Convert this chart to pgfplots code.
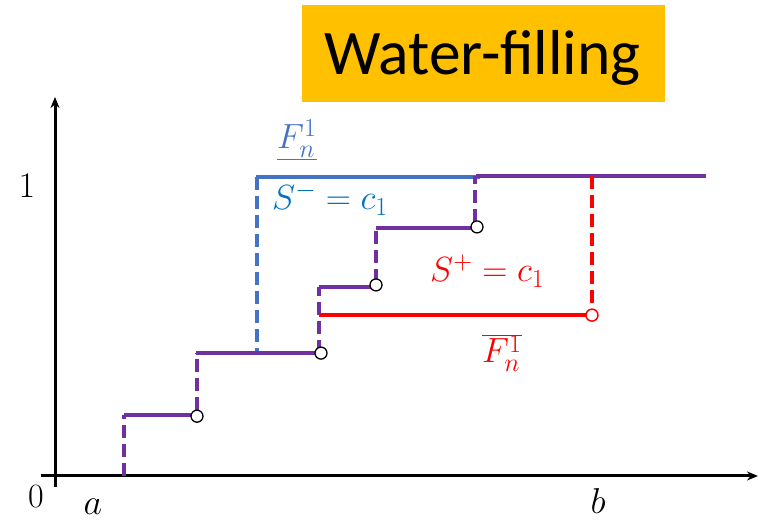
\RequirePackage{fix-cm}
\documentclass[border=0pt]{standalone}
\usepackage{fontspec}
\usepackage{pgfplots}
\pgfplotsset{compat=1.18}
\usetikzlibrary{arrows.meta}
\newfontfamily\carlito{Carlito}
\DeclareMathSizes{35}{35}{26}{20}
\definecolor{wfpurple}{HTML}{7030A0}
\definecolor{wfblue}{HTML}{4472C4}
\definecolor{wftblue}{HTML}{0070C0}
\definecolor{wfred}{HTML}{FF0000}
\definecolor{wfgold}{HTML}{FFC000}
\begin{document}
\begin{tikzpicture}
\useasboundingbox (0pt,0pt) rectangle (761pt,521pt);
\fill[wfgold] (302pt,419pt) rectangle (665pt,516pt);
\node[anchor=base, inner sep=0pt, font=\carlito\fontsize{63.5}{70}\selectfont] at (482.5pt,446pt) {Water-filling};
\begin{axis}[
 at={(41pt,34pt)}, anchor=south west,
 scale only axis, width=717pt, height=390pt,
 xmin=-14, xmax=703, ymin=-0.0368, ymax=1.2676,
 axis lines=middle,
 axis line style={line width=3pt, -{Stealth[length=11pt,width=9pt]}},
 ticks=none, clip=false,
]
% blue
\addplot[wfblue, line width=4pt] coordinates {(201,1.0) (425,1.0)};
\addplot[wfblue, line width=4pt, dash pattern=on 13pt off 6pt] coordinates {(202,1.0) (202,0.411)};
% purple solid steps
\addplot[wfpurple, line width=4pt] coordinates {(69,0.204) (142,0.204)};
\addplot[wfpurple, line width=4pt] coordinates {(141,0.411) (266,0.411)};
\addplot[wfpurple, line width=4pt] coordinates {(264,0.632) (321,0.632)};
\addplot[wfpurple, line width=4pt] coordinates {(321,0.829) (422,0.829)};
\addplot[wfpurple, line width=4pt] coordinates {(421,1.005) (651,1.005)};
% purple dashed risers
\addplot[wfpurple, line width=4pt, dash pattern=on 13pt off 6pt] coordinates {(69,0.0) (69,0.204)};
\addplot[wfpurple, line width=4pt, dash pattern=on 13pt off 6pt] coordinates {(142,0.22) (142,0.411)};
\addplot[wfpurple, line width=4pt, dash pattern=on 13pt off 6pt] coordinates {(264,0.411) (264,0.632)};
\addplot[wfpurple, line width=4pt, dash pattern=on 13pt off 6pt] coordinates {(321,0.65) (321,0.829)};
\addplot[wfpurple, line width=4pt, dash pattern=on 13pt off 6pt] coordinates {(420,0.85) (420,1.005)};
% red
\addplot[wfred, line width=4.5pt] coordinates {(264,0.538) (531,0.538)};
\addplot[wfred, line width=4.5pt, dash pattern=on 13pt off 6pt] coordinates {(537,1.005) (537,0.56)};
% open circles
\addplot[only marks, mark=*, mark size=6pt, mark options={fill=white, draw=black, line width=1.3pt}] coordinates {(142,0.2) (266,0.411) (321,0.639) (422,0.833)};
\addplot[only marks, mark=*, mark size=6pt, mark options={fill=white, draw=wfred, line width=1.5pt}] coordinates {(537,0.538)};
% labels
\node[anchor=base west, inner sep=0pt, text=wfblue, font=\fontsize{35}{40}\selectfont] at (axis cs:222,1.094) {$\underline{F_n^1}$};
\node[anchor=base west, inner sep=0pt, text=wftblue, font=\fontsize{35}{40}\selectfont] at (axis cs:217,0.890) {$S^{-}=c_1$};
\node[anchor=base west, inner sep=0pt, text=wfred, font=\fontsize{35}{40}\selectfont] at (axis cs:375,0.649) {$S^{+}=c_1$};
\node[anchor=base west, inner sep=0pt, text=wfred, font=\fontsize{35}{40}\selectfont] at (axis cs:427,0.378) {$\overline{F_n^1}$};
\node[anchor=base, inner sep=0pt, font=\fontsize{36}{40}\selectfont] at (axis cs:-28,0.933) {$1$};
\node[anchor=base, inner sep=0pt, font=\fontsize{34}{40}\selectfont] at (axis cs:-19,-0.104) {$0$};
\node[anchor=base, inner sep=0pt, font=\fontsize{36}{40}\selectfont] at (axis cs:38,-0.130) {$a$};
\node[anchor=base, inner sep=0pt, font=\fontsize{36}{40}\selectfont] at (axis cs:543,-0.127) {$b$};
\end{axis}
\end{tikzpicture}
\end{document}
